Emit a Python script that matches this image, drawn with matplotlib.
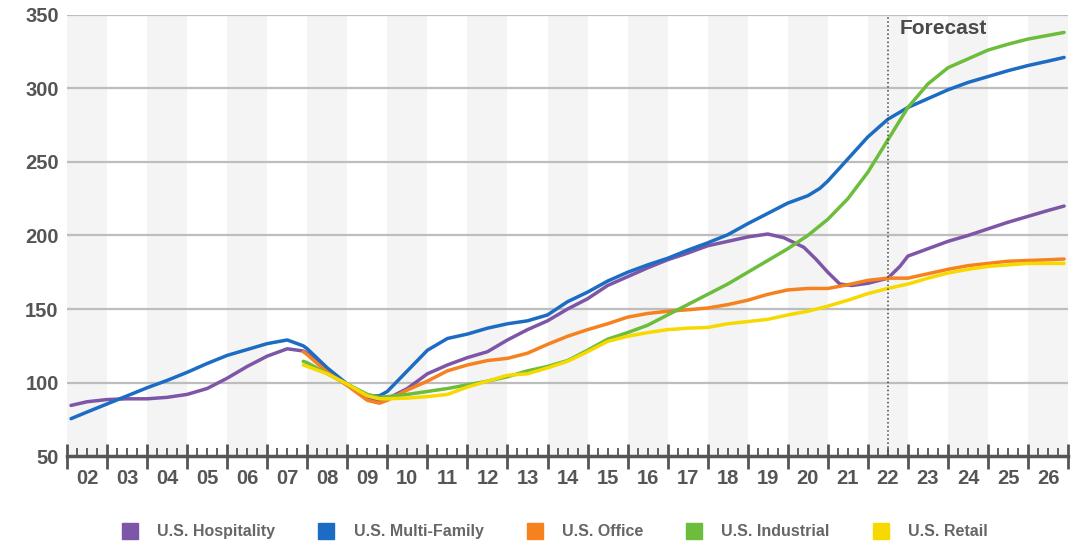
import matplotlib.pyplot as plt
from matplotlib.lines import Line2D

plt.rcParams['font.family'] = ['Liberation Sans', 'DejaVu Sans']

# year labels along the bottom (02 .. 26)
years = list(range(2002, 2027))
year_labels = [f"{y % 100:02d}" for y in years]
forecast_start = 2022.5

# --- series values (x = fractional year) ---
hosp_x = [2002.1, 2002.5, 2003.0, 2003.5, 2004.0, 2004.5, 2005.0, 2005.5, 2006.0, 2006.5,
          2007.0, 2007.5, 2007.9, 2008.0, 2008.5, 2009.0, 2009.5, 2009.8, 2010.0, 2010.5,
          2011.0, 2011.5, 2012.0, 2012.5, 2013.0, 2013.5, 2014.0, 2014.5, 2015.0, 2015.5,
          2016.0, 2016.5, 2017.0, 2017.5, 2018.0, 2018.5, 2019.0, 2019.5, 2019.9, 2020.4,
          2020.7, 2021.0, 2021.3, 2021.6, 2022.0, 2022.5, 2022.8, 2023.0, 2023.5, 2024.0,
          2024.5, 2025.0, 2025.5, 2026.0, 2026.5, 2026.9]
hosp_y = [84.5, 87, 88.5, 89, 89, 90, 92, 96, 103, 111,
          118, 123, 121.5, 120, 108, 99, 90, 88, 89, 96,
          106, 112, 117, 121, 129, 136, 142, 150, 157, 166,
          172, 178, 183.5, 188, 193, 196, 199, 201, 198.5, 192,
          184, 175, 167, 166, 167.5, 171, 179, 186, 191, 196,
          200, 204.5, 209, 213, 217, 220]

multi_x = [2002.1, 2002.5, 2003.0, 2003.5, 2004.0, 2004.5, 2005.0, 2005.5, 2006.0, 2006.5,
           2007.0, 2007.5, 2007.9, 2008.0, 2008.5, 2009.0, 2009.5, 2009.8, 2010.0, 2010.5,
           2011.0, 2011.5, 2012.0, 2012.5, 2013.0, 2013.5, 2014.0, 2014.5, 2015.0, 2015.5,
           2016.0, 2016.5, 2017.0, 2017.5, 2018.0, 2018.5, 2019.0, 2019.5, 2020.0, 2020.5,
           2020.8, 2021.0, 2021.5, 2022.0, 2022.5, 2023.0, 2023.5, 2024.0, 2024.5, 2025.0,
           2025.5, 2026.0, 2026.5, 2026.9]
multi_y = [75.5, 80, 85.5, 91, 96.5, 101.5, 107, 113, 118.5, 122.5,
           126.5, 129, 125, 123, 110, 99, 91, 91, 94, 108,
           122, 130, 133, 137, 140, 142, 146, 155, 161.5, 169,
           175, 180, 184.5, 190, 195, 200.5, 208, 215, 222, 227,
           232, 237, 252, 267, 279, 287, 293, 299, 304, 308,
           312, 315.5, 318.5, 321]

late_x = [2007.9, 2008.0, 2008.5, 2009.0, 2009.5, 2009.8, 2010.0, 2010.5, 2011.0, 2011.5,
          2012.0, 2012.5, 2013.0, 2013.5, 2014.0, 2014.5, 2015.0, 2015.5, 2016.0, 2016.5,
          2017.0, 2017.5, 2018.0, 2018.5, 2019.0, 2019.5, 2020.0, 2020.5, 2021.0, 2021.5,
          2022.0, 2022.5, 2023.0, 2023.5, 2024.0, 2024.5, 2025.0, 2025.5, 2026.0, 2026.5,
          2026.9]
office_y = [121, 119, 107, 98, 88, 86, 88, 95, 101, 108,
            112, 115, 116.5, 120, 126, 131.5, 136, 140, 144.5, 147,
            148.5, 149.5, 150.7, 153, 156, 160, 163, 164, 164, 166.5,
            169.5, 171, 171, 174, 177, 179.5, 181, 182.5, 183, 183.5,
            184]
indus_y = [114.5, 113.5, 106, 99, 92, 90, 90.5, 92, 94, 96,
           98.5, 101, 104, 108, 111, 115, 122, 129.5, 134, 139,
           146, 153, 160, 167, 175, 183, 191, 200, 211, 225,
           243, 265, 287, 303, 314, 320, 326, 330, 333.5, 336,
           338]
retail_y = [112, 111, 106, 99, 91, 89, 89, 89.5, 90.5, 92,
            97, 101, 105, 106, 110, 114.5, 121, 128, 131.5, 134,
            136, 137, 137.5, 140, 141.5, 143, 146, 148.5, 152, 156,
            160.5, 164, 167, 171, 174.5, 177, 179, 180, 181, 181,
            181]

names = ["U.S. Hospitality", "U.S. Multi-Family", "U.S. Office", "U.S. Industrial", "U.S. Retail"]
colors = ["#7d56a8", "#1c6cc4", "#f5821f", "#6cbd3c", "#f7d900"]

fig = plt.figure(figsize=(10.91, 5.47), dpi=100)
ax = fig.add_axes([0.0614, 0.166, 0.9176, 0.807])

# alternating year bands
for y in years[::2]:
    ax.axvspan(y, y + 1, color="#f4f4f4", lw=0, zorder=0)

for v in range(100, 351, 50):
    ax.axhline(v, color="#bdbdbd", lw=1.6, zorder=1)

series = [(hosp_x, hosp_y), (multi_x, multi_y), (late_x, office_y), (late_x, indus_y), (late_x, retail_y)]
for (xs, ys), c in zip(series, colors):
    ax.plot(xs, ys, color=c, lw=2.5, solid_capstyle="round",
            solid_joinstyle="round", zorder=3)

ax.axvline(forecast_start, ymin=0, ymax=1, color="#444444", lw=1.1, ls=":", zorder=4)
ax.text(forecast_start + 0.3, 341, "Forecast", fontsize=15, fontweight="bold",
        color="#4a4a4a", va="center", ha="left")

ax.set_xlim(2002, 2027)
ax.set_ylim(50, 350)
ax.set_yticks(range(50, 351, 50))
ax.tick_params(axis="y", length=0, pad=6, labelsize=14.5, labelcolor="#555555")
for lab in ax.get_yticklabels():
    lab.set_fontweight("bold")

ax.set_xticks(range(2002, 2028))
ax.set_xticklabels([])
ax.set_xticks([y + q / 4 for y in range(2002, 2027) for q in (1, 2, 3)], minor=True)
ax.tick_params(axis="x", which="major", direction="inout", length=18, width=2, color="#555555")
ax.tick_params(axis="x", which="minor", direction="in", length=6, width=1.3, color="#555555")
# year labels sit centred inside each year, below the tick marks
for y, lab in zip(years, year_labels):
    ax.text(y + 0.5, 41.5, lab, ha="center", va="top", clip_on=False,
            fontsize=14.5, fontweight="bold", color="#555555")

for s in ["top", "right", "left"]:
    ax.spines[s].set_visible(False)
ax.spines["bottom"].set_color("#555555")
ax.spines["bottom"].set_linewidth(2.5)

handles = [Line2D([], [], marker="s", ls="none", markersize=11, color=c) for c in colors]
leg = fig.legend(handles, names, loc="center", bbox_to_anchor=(0.505, 0.028), ncol=5,
                 frameon=False, handletextpad=0.7, columnspacing=2.2,
                 prop={"size": 11.5, "weight": "bold"})
for t in leg.get_texts():
    t.set_color("#666666")

fig.savefig("out.png", dpi=100)
